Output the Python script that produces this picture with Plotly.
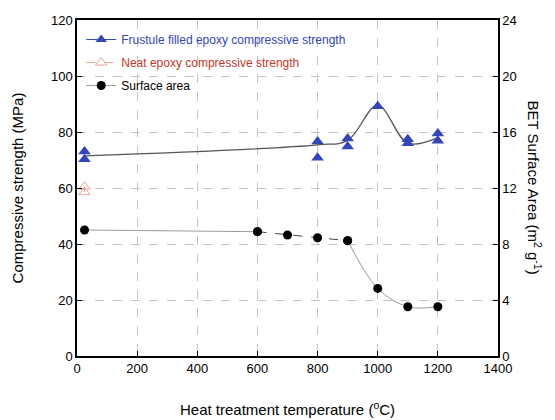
import plotly.graph_objects as go

# Frustule filled epoxy compressive strength (MPa)
frustule_x = [25, 25, 800, 800, 900, 900, 1000, 1100, 1100, 1200, 1200]
frustule_y = [73.0, 70.3, 76.6, 70.8, 77.7, 74.8, 89.2, 77.4, 76.0, 79.5, 76.9]
# trend line through frustule data
fit_x = [25, 800, 900, 1000, 1100, 1200]
fit_y = [71.5, 75.4, 77.0, 89.5, 76.0, 78.0]
# Neat epoxy compressive strength (MPa)
neat_x = [25, 25]
neat_y = [60.5, 58.5]
# BET surface area (m2/g)
sa_x1 = [25, 600]
sa_y1 = [9.0, 8.88]
sa_x2 = [600, 700, 800, 900]
sa_y2 = [8.88, 8.64, 8.45, 8.24]
sa_x3 = [900, 1000, 1100, 1200]
sa_y3 = [8.24, 4.83, 3.52, 3.52]

x_ticks = [0, 200, 400, 600, 800, 1000, 1200, 1400]
y_ticks = [0, 20, 40, 60, 80, 100, 120]
y2_ticks = [0, 4, 8, 12, 16, 20, 24]

BLUE = "#3346b4"
RED = "#c0392b"
SALMON = "#e9a396"
FONT = "Arial, Liberation Sans, sans-serif"

fig = go.Figure()

# legend-only entries
fig.add_trace(go.Scatter(x=[None], y=[None], mode="lines+markers",
    name=f"<span style='color:{BLUE}'>Frustule filled epoxy compressive strength</span>",
    line=dict(color=BLUE, width=1), marker=dict(symbol="triangle-up", size=10, color=BLUE),
    legendgroup="a"))
fig.add_trace(go.Scatter(x=neat_x, y=neat_y, mode="lines+markers",
    name=f"<span style='color:{RED}'>Neat epoxy compressive strength</span>",
    line=dict(color=SALMON, width=1, dash="dash"),
    marker=dict(symbol="triangle-up-open", size=10, color=SALMON, line=dict(width=1)),
    legendgroup="b"))
fig.add_trace(go.Scatter(x=sa_x1, y=sa_y1, mode="lines+markers", yaxis="y2",
    name="Surface area", line=dict(color="#9a9a9a", width=1),
    marker=dict(symbol="circle", size=9, color="black"), legendgroup="c"))

fig.add_trace(go.Scatter(x=fit_x, y=fit_y, mode="lines", line=dict(color="#555555", width=1.3, shape="spline"),
    showlegend=False, hoverinfo="skip"))
fig.add_trace(go.Scatter(x=frustule_x, y=frustule_y, mode="markers",
    marker=dict(symbol="triangle-up", size=11, color=BLUE), showlegend=False))

fig.add_trace(go.Scatter(x=sa_x2, y=sa_y2, mode="lines+markers", yaxis="y2",
    line=dict(color="#444444", width=1, dash="dash"),
    marker=dict(symbol="circle", size=9, color="black"), showlegend=False))
fig.add_trace(go.Scatter(x=sa_x3, y=sa_y3, mode="lines+markers", yaxis="y2",
    line=dict(color="#9a9a9a", width=1, shape="spline"),
    marker=dict(symbol="circle", size=9, color="black"), showlegend=False))

axis_common = dict(showline=True, linecolor="black", linewidth=1.5, ticks="inside", ticklen=5,
                   tickcolor="black", tickfont=dict(size=13, color="black", family=FONT),
                   zeroline=False, automargin=False)

fig.update_layout(
    width=547, height=412,
    margin=dict(l=69, r=57, t=12, b=64),
    paper_bgcolor="white", plot_bgcolor="white",
    font=dict(family=FONT, color="black"),
    xaxis=dict(range=[0, 1400], tickvals=x_ticks, mirror=True,
               showgrid=True, gridcolor="#c4c4c4", griddash="dash", gridwidth=1,
               title=dict(text="Heat treatment temperature (<sup>o</sup>C)", font=dict(size=15), standoff=29),
               **axis_common),
    yaxis=dict(range=[0, 120], tickvals=y_ticks, mirror=True,
               showgrid=True, gridcolor="#c4c4c4", griddash="dash", gridwidth=1,
               title=dict(text="Compressive strength (MPa)", font=dict(size=15), standoff=24),
               **axis_common),
    yaxis2=dict(range=[0, 24], tickvals=y2_ticks, overlaying="y", side="right",
                showgrid=False, **axis_common),
    legend=dict(x=0.01, y=0.985, xanchor="left", yanchor="top", bgcolor="rgba(0,0,0,0)",
                font=dict(size=12, family=FONT), tracegroupgap=4, itemwidth=30),
    annotations=[dict(text="BET Surface Area (m<sup>2</sup> g<sup>-1</sup>)", textangle=90,
                      xref="paper", yref="paper", x=1.089, y=0.5, showarrow=False,
                      xanchor="center", yanchor="middle", font=dict(size=15, family=FONT))],
)

fig.write_html("out.html")
